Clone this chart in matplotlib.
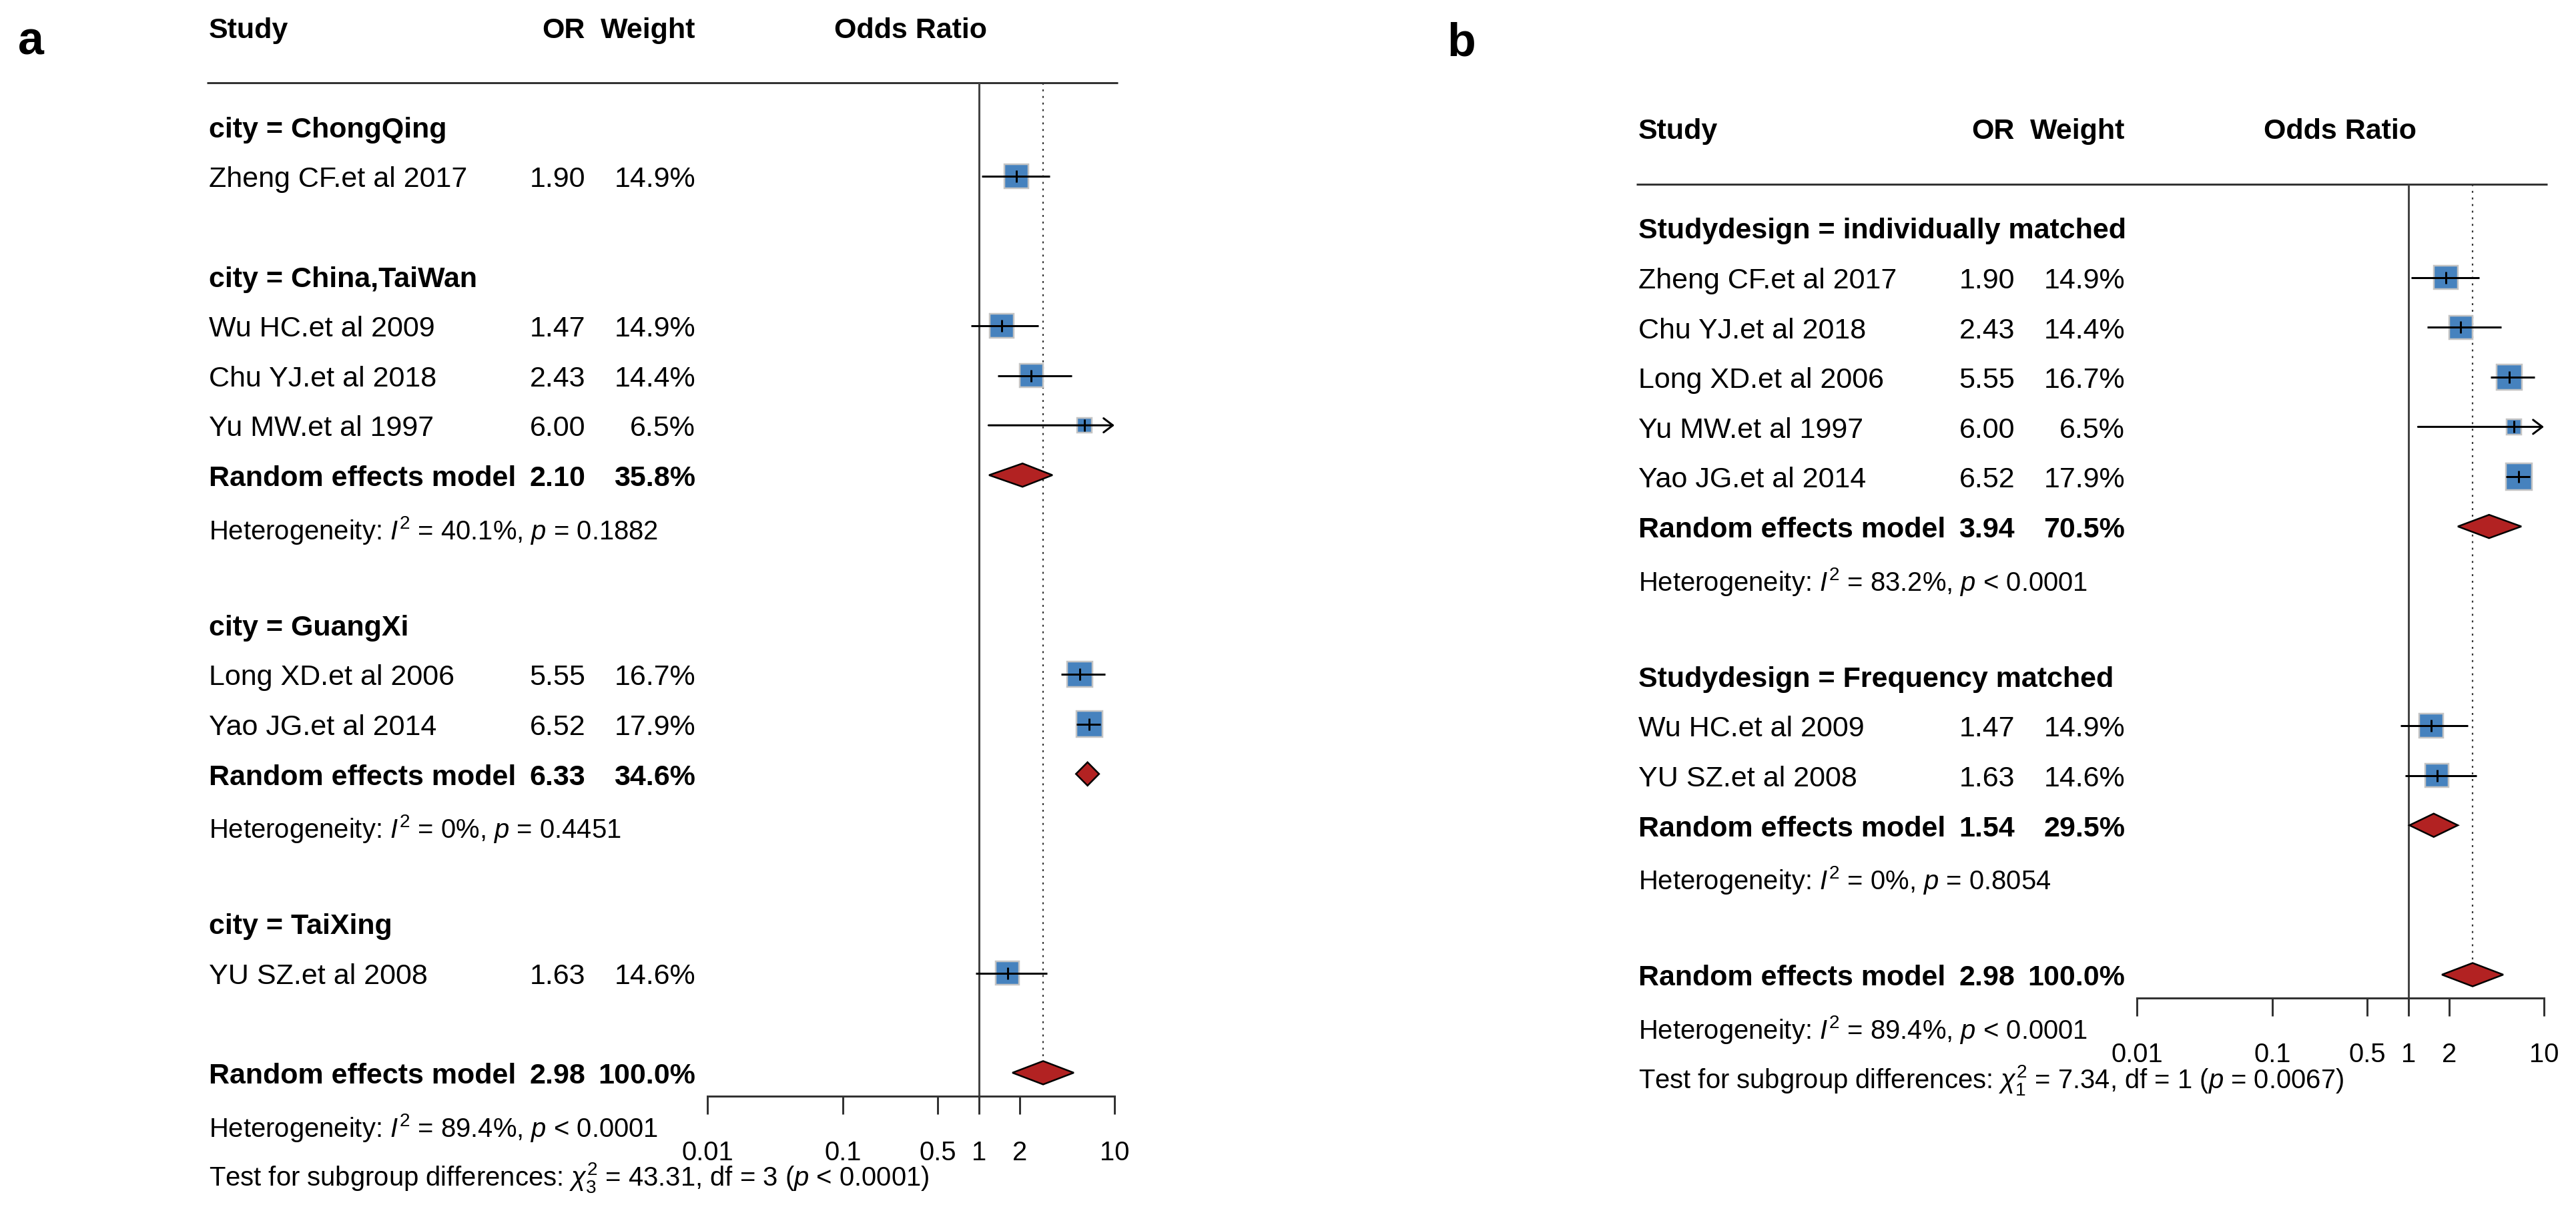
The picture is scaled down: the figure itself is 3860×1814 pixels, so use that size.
import numpy as np
import matplotlib
matplotlib.use("Agg")
import matplotlib.pyplot as plt
from matplotlib import transforms
from matplotlib.ticker import NullLocator

plt.rcParams['font.family'] = ['Liberation Sans', 'DejaVu Sans']
plt.rcParams['mathtext.fontset'] = 'custom'
plt.rcParams['mathtext.rm'] = 'Liberation Sans'
plt.rcParams['mathtext.it'] = 'Liberation Sans:italic'
plt.rcParams['mathtext.bf'] = 'Liberation Sans:bold'

# ---------------- data ----------------
study = ["Zheng CF.et al 2017", "Wu HC.et al 2009", "Chu YJ.et al 2018",
         "Yu MW.et al 1997", "Long XD.et al 2006", "Yao JG.et al 2014",
         "YU SZ.et al 2008"]
odds = [1.90, 1.47, 2.43, 6.00, 5.55, 6.52, 1.63]
lower = [1.05, 0.88, 1.38, 1.18, 4.05, 5.25, 0.95]
upper = [3.35, 2.75, 4.85, 30.0, 8.55, 7.90, 3.19]
weight = [14.9, 14.9, 14.4, 6.5, 16.7, 17.9, 14.6]
city = ["ChongQing", "China,TaiWan", "China,TaiWan", "China,TaiWan",
        "GuangXi", "GuangXi", "TaiXing"]
design = ["individually matched", "Frequency matched", "individually matched",
          "individually matched", "individually matched", "individually matched",
          "Frequency matched"]

city_order = ["ChongQing", "China,TaiWan", "GuangXi", "TaiXing"]
city_re_or = [np.nan, 2.10, 6.33, np.nan]
city_re_lo = [np.nan, 1.19, 5.20, np.nan]
city_re_hi = [np.nan, 3.49, 7.70, np.nan]
city_re_w = [14.9, 35.8, 34.6, 14.6]
city_i2 = ["", "40.1%", "0%", ""]
city_p = ["", "= 0.1882", "= 0.4451", ""]
city_test = ["43.31", "3", "< 0.0001"]

design_order = ["individually matched", "Frequency matched"]
design_re_or = [3.94, 1.54]
design_re_lo = [2.32, 1.02]
design_re_hi = [6.81, 2.32]
design_re_w = [70.5, 29.5]
design_i2 = ["83.2%", "0%"]
design_p = ["< 0.0001", "= 0.8054"]
design_test = ["7.34", "1", "= 0.0067"]

overall_or = 2.98
overall_lo = 1.77
overall_hi = 5.01
overall_w = 100.0
overall_i2 = "89.4%"
overall_p = "< 0.0001"

tick_values = [0.01, 0.1, 0.5, 1, 2, 10]
tick_labels = ["0.01", "0.1", "0.5", "1", "2", "10"]

# ---------------- layout ----------------
W, H = 3860, 1815
DPI = 100
PT = 72.0 / DPI          # points per pixel
SP = 74.6                # row spacing in px
DEC = 203.3              # px per decade

FS_MAIN = 43 * PT
FS_SMALL = 40 * PT

SQ_COL = "#4682BE"
SQ_EDGE = "#C4C4C4"
DIA_COL = "#B22222"
LINE_COL = "#333333"

fig = plt.figure(figsize=(W / DPI, H / DPI), dpi=DPI)
fig.patch.set_facecolor("white")


def draw_panel(letter, letter_xy, dx, row0, var, group_order, group_of,
               re_or, re_lo, re_hi, re_w, het_i2, het_p, test):
    fx0, fx1 = 1060 + dx, 1670 + dx
    ax = fig.add_axes([fx0 / W, 0, (fx1 - fx0) / W, 1])
    ax.set_xscale("log")
    ax.set_xlim(0.01, 10)
    ax.set_ylim((H - row0) / SP, -row0 / SP)
    ax.patch.set_visible(False)
    for s in ("top", "left", "right"):
        ax.spines[s].set_visible(False)
    ax.set_yticks([])
    ax.tick_params(axis="y", left=False)
    blend = transforms.blended_transform_factory(fig.transFigure, ax.transData)

    def txt(px, row, s, ha="left", bold=False, small=False, extra=0.0):
        size = FS_SMALL if small else FS_MAIN
        off = (0.716 * size / PT / 2 + extra) / SP
        ax.text((px + dx) / W, row + off, s, transform=blend, ha=ha,
                va="baseline", fontsize=size,
                fontweight="bold" if bold else "normal", color="black")

    def diamond(est, lo, hi, row):
        h = 17.5 / SP
        ax.fill([lo, est, hi, est], [row, row - h, row, row + h],
                facecolor=DIA_COL, edgecolor="black", lw=2.5 * PT,
                zorder=4, clip_on=False)

    # header
    txt(313, -2, "Study", bold=True)
    txt(877, -2, "OR", ha="right", bold=True)
    txt(1042, -2, "Weight", ha="right", bold=True)
    txt(1365, -2, "Odds Ratio", ha="center", bold=True)
    top_row = -65.5 / SP
    ax.plot([(310 + dx) / W, (1675 + dx) / W], [top_row, top_row],
            transform=blend, color=LINE_COL, lw=3 * PT, clip_on=False,
            solid_capstyle="butt")

    r = 0
    for gi, g in enumerate(group_order):
        txt(313, r, f"{var} = {g}", bold=True)
        r += 1
        idx = [i for i in range(len(study)) if group_of[i] == g]
        idx.sort(key=lambda i: odds[i])
        for i in idx:
            txt(313, r, study[i])
            txt(877, r, f"{odds[i]:.2f}", ha="right")
            txt(1042, r, f"{weight[i]:.1f}%", ha="right")
            side = 9.9 * np.sqrt(weight[i]) - 2.5
            fxs = 10 ** (side / 2 / DEC)
            hy = side / 2 / SP
            ax.fill([odds[i] / fxs, odds[i] * fxs, odds[i] * fxs, odds[i] / fxs],
                    [r - hy, r - hy, r + hy, r + hy], facecolor=SQ_COL,
                    edgecolor=SQ_EDGE, lw=2.5 * PT, zorder=3, clip_on=False)
            if upper[i] > 10:
                ax.annotate("", xy=(10, r), xytext=(lower[i], r),
                            arrowprops=dict(arrowstyle="->,head_length=0.5,head_width=0.38",
                                            mutation_scale=20, lw=3 * PT,
                                            color="black", shrinkA=0, shrinkB=0),
                            zorder=5, annotation_clip=False)
            else:
                ax.plot([lower[i], upper[i]], [r, r], color="black",
                        lw=3 * PT, zorder=5, clip_on=False,
                        solid_capstyle="butt")
            ax.plot([odds[i], odds[i]], [r - 9 / SP, r + 9 / SP], color="black",
                    lw=3 * PT, zorder=5, clip_on=False, solid_capstyle="butt")
            r += 1
        if len(idx) > 1:
            txt(313, r, "Random effects model", bold=True)
            txt(877, r, f"{re_or[gi]:.2f}", ha="right", bold=True)
            txt(1042, r, f"{re_w[gi]:.1f}%", ha="right", bold=True)
            diamond(re_or[gi], re_lo[gi], re_hi[gi], r)
            r += 1
            txt(313, r, rf"Heterogeneity: $I^2$ = {het_i2[gi]}, $p$ {het_p[gi]}",
                small=True, extra=6)
            r += 1
        r += 1

    # overall
    txt(313, r, "Random effects model", bold=True)
    txt(877, r, f"{overall_or:.2f}", ha="right", bold=True)
    txt(1042, r, f"{overall_w:.1f}%", ha="right", bold=True)
    diamond(overall_or, overall_lo, overall_hi, r)
    txt(313, r + 1, rf"Heterogeneity: $I^2$ = {overall_i2}, $p$ {overall_p}",
        small=True, extra=6)
    txt(313, r + 2, rf"Test for subgroup differences: $\chi^2_{{{test[1]}}}$ = {test[0]}, "
                    rf"df = {test[1]} ($p$ {test[2]})", small=True, extra=5)

    axis_row = r + 35 / SP
    ax.plot([1, 1], [top_row, axis_row], color="#444444", lw=3 * PT,
            zorder=2, clip_on=False, solid_capstyle="butt")
    ax.plot([overall_or, overall_or], [top_row, r - 19 / SP], color=LINE_COL,
            lw=2.2 * PT, linestyle=(0, (1.3, 3.2)), zorder=1, clip_on=False)

    ax.spines["bottom"].set_position(("data", axis_row))
    ax.spines["bottom"].set_color(LINE_COL)
    ax.spines["bottom"].set_linewidth(3 * PT)
    ax.set_xticks(tick_values)
    ax.set_xticklabels(tick_labels)
    ax.xaxis.set_minor_locator(NullLocator())
    ax.tick_params(axis="x", direction="out", length=27 * PT, width=3 * PT,
                   color=LINE_COL, pad=38 * PT, labelsize=FS_SMALL)

    fig.text(letter_xy[0] / W, 1 - letter_xy[1] / H, letter, fontsize=70 * PT,
             fontweight="bold", ha="left", va="baseline")


draw_panel("a", (27, 82), 0, 190.5, "city", city_order, city,
           city_re_or, city_re_lo, city_re_hi, city_re_w, city_i2, city_p,
           city_test)
draw_panel("b", (2168, 84), 2142, 342.0, "Studydesign", design_order, design,
           design_re_or, design_re_lo, design_re_hi, design_re_w, design_i2,
           design_p, design_test)

fig.savefig("out.png", dpi=DPI, facecolor="white")
